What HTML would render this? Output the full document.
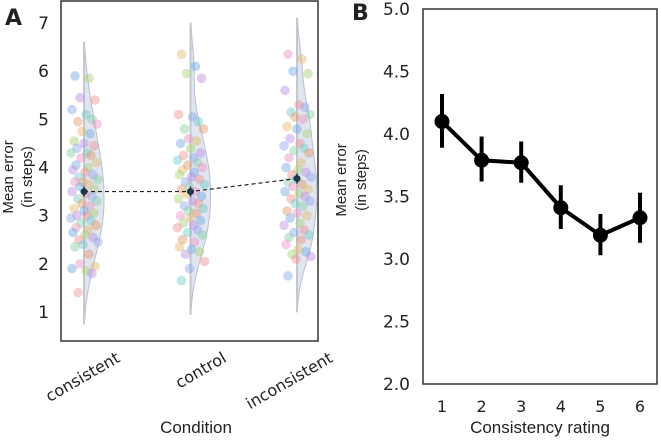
<!DOCTYPE html>
<html><head><meta charset="utf-8">
<style>
body{margin:0;background:#fff;}
svg text{font-family:"DejaVu Sans","Liberation Sans",sans-serif;fill:#222;}
svg text.ttl{font-family:"Liberation Sans","DejaVu Sans",sans-serif;}
</style></head>
<body>
<svg id="fig" width="661" height="439" viewBox="0 0 661 439" xmlns="http://www.w3.org/2000/svg">
<text x="5" y="25" font-size="22" font-weight="bold">A</text>
<text x="352" y="20" font-size="22" font-weight="bold">B</text>
<g id="pa"></g><g id="pb"></g>
</svg>
<script>
// Panel A data
const condCats = ["consistent","control","inconsistent"];
const condMeans = [3.5, 3.5, 3.77];
const violinMin = [0.75, 0.95, 1.0];
const violinMax = [6.6, 7.0, 7.1];
const dotsConsistent = [5.9,5.85,5.45,5.4,5.2,5.1,5.0,4.95,4.9,4.75,4.7,4.55,4.5,4.45,4.4,4.3,4.3,4.25,4.2,4.1,4.05,4.0,3.95,3.9,3.85,3.8,3.75,3.7,3.7,3.65,3.6,3.55,3.5,3.45,3.4,3.35,3.3,3.25,3.2,3.15,3.1,3.05,3.0,3.0,2.95,2.9,2.85,2.8,2.75,2.7,2.65,2.6,2.55,2.5,2.45,2.4,2.35,2.2,2.0,1.95,1.9,1.85,1.8,1.4];
const dotsControl = [6.35,6.1,5.95,5.85,5.1,5.05,4.95,4.8,4.8,4.6,4.55,4.5,4.4,4.3,4.25,4.2,4.15,4.1,4.05,4.0,3.95,3.9,3.85,3.8,3.75,3.7,3.65,3.6,3.55,3.5,3.45,3.4,3.35,3.3,3.25,3.2,3.15,3.1,3.05,3.0,2.95,2.9,2.85,2.8,2.75,2.7,2.65,2.6,2.5,2.45,2.35,2.3,2.25,2.2,2.05,1.9,1.65];
const dotsInconsistent = [6.35,6.25,6.0,5.95,5.6,5.3,5.25,5.15,5.1,5.05,5.0,4.85,4.8,4.7,4.6,4.5,4.45,4.4,4.35,4.3,4.2,4.1,4.0,3.95,3.9,3.85,3.8,3.75,3.7,3.65,3.6,3.55,3.5,3.45,3.4,3.35,3.3,3.25,3.2,3.1,3.05,3.0,2.95,2.85,2.8,2.7,2.65,2.6,2.55,2.5,2.4,2.3,2.25,2.2,2.15,2.1,1.75];
const yTicksA = [1,2,3,4,5,6,7];
// Panel B data
const ratingCats = [1,2,3,4,5,6];
const ratingMeans = [4.10,3.79,3.77,3.41,3.19,3.33];
const ratingLow = [3.89,3.62,3.61,3.24,3.03,3.13];
const ratingHigh = [4.32,3.98,3.94,3.59,3.36,3.53];
const yTicksB = [2.0,2.5,3.0,3.5,4.0,4.5,5.0];

const NS="http://www.w3.org/2000/svg";
function mk(parent,tag,attrs){const e=document.createElementNS(NS,tag);for(const k in attrs)e.setAttribute(k,attrs[k]);parent.appendChild(e);return e;}

// ---- Panel A
const pa=document.getElementById('pa');
const aL=61,aR=318,aT=1,aB=341;
const yA=v=>312-(v-1)*48.17;
const xA=i=>84+i*106.5;
let fr=mk(pa,'rect',{x:aL,y:aT,width:aR-aL,height:aB-aT,fill:'none',stroke:'#333','stroke-width':1.5});

yTicksA.forEach(t=>{const tx=mk(pa,'text',{x:49,y:yA(t)+6,'font-size':17,'text-anchor':'end'});tx.textContent=t;
});
const colors=['#6fa8e0','#ee9090','#86cfa3','#e2b96f','#bb8fe3','#70c9c6','#ec92c4','#a8d175','#8fa3ee','#e4946a'];
const dotsAll=[dotsConsistent,dotsControl,dotsInconsistent];
const jit=[-9,5,-4,11,-12,2,8,-6,13,-2,6,-10,0,10,-7,3,-13,7,-3,12,-8,4,-11,1,9,-5,14,-1];
condCats.forEach((c,i)=>{
  const d=dotsAll[i];const cx=xA(i);
  const bw=0.45;let maxd=0;const dens=[];
  for(let v=violinMin[i];v<=violinMax[i]+1e-9;v+=0.05){let s=0;d.forEach(p=>{s+=Math.exp(-0.5*((v-p)/bw)**2);});dens.push([v,s]);if(s>maxd)maxd=s;}
  let path=`M${cx},${yA(violinMin[i])}`;
  dens.forEach(([v,s])=>{path+=` L${cx+s/maxd*20},${yA(v)}`;});
  path+=` L${cx},${yA(violinMax[i])} Z`;
  const vp=mk(pa,'path',{d:path,fill:'#c8d0e4','fill-opacity':0.55,stroke:'#b8bfd0','stroke-width':1});
  
  const ln=mk(pa,'line',{x1:cx,x2:cx,y1:yA(violinMin[i]),y2:yA(violinMax[i]),stroke:'#c4c8d0','stroke-width':2});
  
  d.forEach((v,k)=>{const dot=mk(pa,'circle',{cx:cx+jit[k%jit.length],cy:yA(v),r:4.8,fill:colors[(k*7+i*3)%colors.length],'fill-opacity':0.45});
    });
  const lb=mk(pa,'text',{x:0,y:0,'font-size':16,'text-anchor':'end',transform:`translate(${cx+37},${361}) rotate(-30)`});lb.textContent=c;
  
});
let mp='';condMeans.forEach((m,i)=>{mp+=(i?' L':'M')+xA(i)+','+yA(m);});
const ml=mk(pa,'path',{d:mp,fill:'none',stroke:'#222','stroke-width':1.2,'stroke-dasharray':'4,3'});

condMeans.forEach((m,i)=>{
  const e=mk(pa,'line',{x1:xA(i),x2:xA(i),y1:yA(m)-5,y2:yA(m)+5,stroke:'#1e3a4a','stroke-width':1.5});
  
  const c=mk(pa,'circle',{cx:xA(i),cy:yA(m),r:3.5,fill:'#1e3a4a'});
  
});
let t=mk(pa,'text',{x:196,y:433,'font-size':17,'text-anchor':'middle','class':'ttl'});t.textContent='Condition';

t=mk(pa,'text',{x:0,y:0,'font-size':15,'text-anchor':'middle','class':'ttl',transform:'translate(13,177) rotate(-90)'});t.textContent='Mean error';

t=mk(pa,'text',{x:0,y:0,'font-size':15,'text-anchor':'middle','class':'ttl',transform:'translate(32,177) rotate(-90)'});t.textContent='(in steps)';


// ---- Panel B
const pb=document.getElementById('pb');
const bL=423,bR=657,bT=9,bB=384;
const yB=v=>384-(v-2)*125;
const xB=r=>442+(r-1)*39.6;
fr=mk(pb,'rect',{x:bL,y:bT,width:bR-bL,height:bB-bT,fill:'none',stroke:'#333','stroke-width':1.5});

yTicksB.forEach(v=>{const tx=mk(pb,'text',{x:410,y:yB(v)+6,'font-size':17,'text-anchor':'end'});tx.textContent=v.toFixed(1);
});
ratingCats.forEach(r=>{const tx=mk(pb,'text',{x:xB(r),y:412,'font-size':16,'text-anchor':'middle'});tx.textContent=r;
});
let lp='';ratingCats.forEach((r,i)=>{lp+=(i?' L':'M')+xB(r)+','+yB(ratingMeans[i]);});
const bl=mk(pb,'path',{d:lp,fill:'none',stroke:'#000','stroke-width':4,'stroke-linejoin':'round'});

ratingCats.forEach((r,i)=>{
  const e=mk(pb,'line',{x1:xB(r),x2:xB(r),y1:yB(ratingLow[i]),y2:yB(ratingHigh[i]),stroke:'#000','stroke-width':4});
  
  const c=mk(pb,'circle',{cx:xB(r),cy:yB(ratingMeans[i]),r:7.5,fill:'#000'});
  
});
t=mk(pb,'text',{x:540,y:433,'font-size':17,'text-anchor':'middle','class':'ttl'});t.textContent='Consistency rating';

t=mk(pb,'text',{x:0,y:0,'font-size':15,'text-anchor':'middle','class':'ttl',transform:'translate(346,180) rotate(-90)'});t.textContent='Mean error';

t=mk(pb,'text',{x:0,y:0,'font-size':15,'text-anchor':'middle','class':'ttl',transform:'translate(366,180) rotate(-90)'});t.textContent='(in steps)';

</script>
</body></html>
